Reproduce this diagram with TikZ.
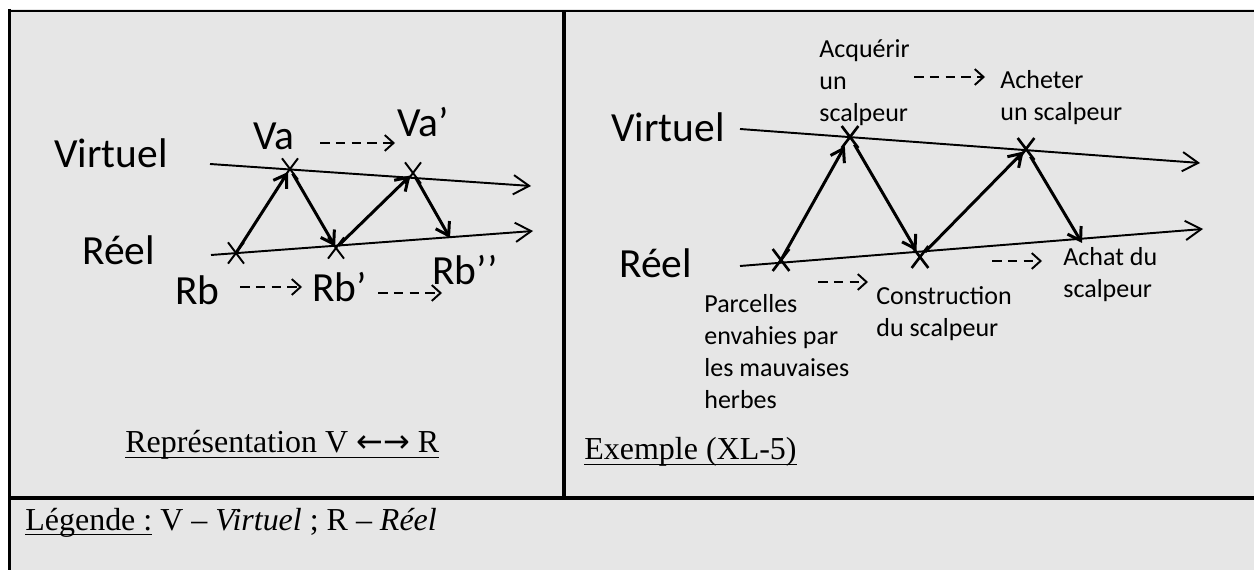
\documentclass[tikz,border=0pt]{standalone}
\usepackage{fontspec}
\setmainfont{Liberation Serif}
\newfontfamily\calibri{Carlito}
\newfontfamily\fleches{DejaVu Sans}
\usetikzlibrary{arrows.meta,shapes.misc}

\definecolor{gris}{RGB}{230,230,230}
\newcommand{\souligne}[1]{\setbox0\hbox{#1}\rlap{\rule[-3.1pt]{\wd0}{1pt}}\box0\relax}

\tikzset{
  cadre/.style={line width=2.1pt},
  axe/.style={line width=1.1pt, -{Straight Barb[length=9pt,width=11pt]}},
  fleche/.style={line width=1.7pt, -{Straight Barb[length=7pt,width=9pt]}},
  suite/.style={line width=1.1pt, dash pattern=on 5.5pt off 3.5pt, -{Straight Barb[length=5pt,width=9pt]}},
  croix/.style={cross out, draw, line width=1.1pt, inner sep=0pt, minimum width=8pt, minimum height=11pt},
  grand/.style={font=\calibri\fontsize{23.6}{28}\selectfont, inner sep=0pt, anchor=base west},
  petit/.style={font=\calibri\fontsize{14.8}{18.2}\selectfont, inner sep=0pt, anchor=north west, align=left},
  titre/.style={font=\fontsize{18.2}{22}\selectfont, inner sep=0pt, anchor=base west}
}

\begin{document}
\begin{tikzpicture}[x=0.02cm, y=-0.02cm]
    \useasboundingbox (0,0) rectangle (1254,570);

    % Tableau
    \fill[gris] (8,9.5) rectangle (1254,570);
    \draw[line width=1.3pt] (8,11) -- (1254,11);
    \draw[cadre] (9.5,9) -- (9.5,570);
    \draw[cadre] (564,11) -- (564,498);
    \draw[cadre] (9.5,498) -- (1254,498);

    % Représentation V <-> R
    \node[grand] (virtG) at (54,168) {Virtuel};
    \node[grand] (reelG) at (82,265) {Réel};
    \coordinate (v0) at (210,164);
    \coordinate (v1) at (531,186);
    \coordinate (r0) at (211,255);
    \coordinate (r1) at (533,231);
    \draw[axe] (v0) -- (v1);
    \draw[axe] (r0) -- (r1);

    \node[croix] (rb) at (236,253) {};
    \node[croix] (va) at (290,169) {};
    \node[croix] (rbp) at (336,248) {};
    \node[croix] (vap) at (413,173) {};
    \coordinate (rbpp) at (450,238);

    \draw[fleche, shorten >=2pt] (rb.center) -- (va.center);
    \draw[fleche, shorten <=3pt, shorten >=1pt] (va.center) -- (rbp.center);
    \draw[fleche, shorten <=2pt, shorten >=2pt] (rbp.center) -- (vap.center);
    \draw[fleche, shorten <=3pt] (vap.center) -- (rbpp);

    \node[grand] (lva) at (253,150) {Va};
    \node[grand] (lvap) at (397,137) {Va’};
    \node[grand] (lrb) at (175,305) {Rb};
    \node[grand] (lrbp) at (312,302) {Rb’};
    \node[grand] (lrbpp) at (432,285) {Rb’’};

    % Passages
    \coordinate (p1a) at (320,143); \coordinate (p1b) at (395,143);
    \coordinate (p2a) at (240,287); \coordinate (p2b) at (302,287);
    \coordinate (p3a) at (378,293); \coordinate (p3b) at (442,293);
    \draw[suite] (p1a) -- (p1b);
    \draw[suite] (p2a) -- (p2b);
    \draw[suite] (p3a) -- (p3b);

    \node[titre] (repr) at (125,453) {\souligne{Représentation V {\fleches ←→} R}};

    % Exemple (XL-5)
    \node[grand] (virtD) at (611,142) {Virtuel};
    \node[grand] (reelD) at (619,278) {Réel};
    \coordinate (w0) at (740,129);
    \coordinate (w1) at (1200,163);
    \coordinate (s0) at (740,266);
    \coordinate (s1) at (1203,229);
    \draw[axe] (w0) -- (w1);
    \draw[axe] (s0) -- (s1);

    \node[croix, line width=1.5pt] (x1) at (781,260) {};
    \node[croix, line width=1.5pt] (x2) at (850,137) {};
    \node[croix, line width=1.5pt] (x3) at (920,257) {};
    \node[croix, line width=1.5pt] (x4) at (1026,149) {};
    \coordinate (xfin) at (1082,243);

    \draw[fleche, shorten >=6pt] (x1.center) -- (x2.center);
    \draw[fleche, shorten <=5pt, shorten >=4pt] (x2.center) -- (x3.center);
    \draw[fleche, shorten <=4pt, shorten >=2pt] (x3.center) -- (x4.center);
    \draw[fleche, shorten <=5pt] (x4.center) -- (xfin);

    \node[petit] (acq) at (819,34.6) {\strut Acquérir\\un\\scalpeur};
    \node[petit] (ach) at (1000,65.6) {\strut Acheter\\un scalpeur};
    \node[petit] (achat) at (1063,242.6) {\strut Achat du\\scalpeur};
    \node[petit] (constr) at (876,282) {\strut Construction\\du scalpeur};
    \node[petit] (parc) at (704,290) {\strut Parcelles\\envahies par\\les mauvaises\\herbes};

    \coordinate (q1a) at (914,77); \coordinate (q1b) at (985,77);
    \coordinate (q2a) at (818,282); \coordinate (q2b) at (868,282);
    \coordinate (q3a) at (992,261); \coordinate (q3b) at (1042,261);
    \draw[suite] (q1a) -- (q1b);
    \draw[suite] (q2a) -- (q2b);
    \draw[suite] (q3a) -- (q3b);

    \node[titre] (exemple) at (584,460) {\souligne{Exemple (XL-5)}};

    % Légende
    \node[titre] (legende) at (25,530) {\souligne{Légende :} V – \textit{Virtuel} ; R – \textit{Réel}};
\end{tikzpicture}
\end{document}
